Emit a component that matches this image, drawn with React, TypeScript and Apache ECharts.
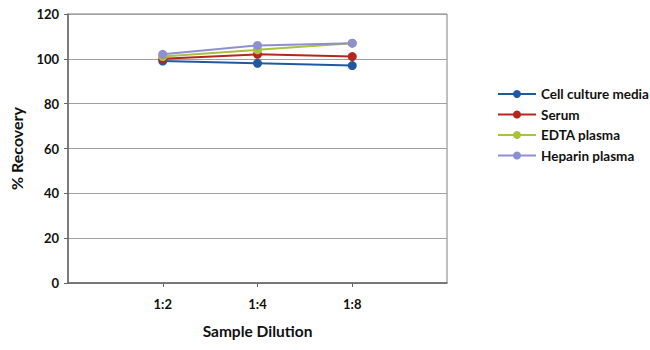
import React, { useEffect, useRef } from "react";
import * as echarts from "echarts";

const categories = ["", "1:2", "1:4", "1:8", ""];
const cellCulture = [null, 99, 98, 97, null];
const serum = [null, 100, 102, 101, null];
const edta = [null, 101, 104, 107, null];
const heparin = [null, 102, 106, 107, null];
const yTicks = [0, 20, 40, 60, 80, 100, 120];

const FONT = "Lato, 'Open Sans', sans-serif";

export default function App() {
  const ref = useRef<HTMLDivElement>(null);
  useEffect(() => {
    const chart = echarts.init(ref.current!, null, { renderer: "svg" });
    const mk = (name: string, data: any[], color: string) => ({
      name,
      type: "line",
      data,
      symbol: "circle",
      symbolSize: 9,
      showSymbol: true,
      connectNulls: false,
      lineStyle: { color, width: 2 },
      itemStyle: { color },
      z: 3,
    });
    chart.setOption({
      animation: false,
      backgroundColor: "#ffffff",
      textStyle: { fontFamily: FONT },
      grid: {
        left: 64,
        right: 203,
        top: 14,
        bottom: 67,
        show: true,
        borderColor: "#808080",
        borderWidth: 1,
      },
      legend: {
        orient: "vertical",
        left: 492,
        top: 82,
        itemWidth: 38,
        itemHeight: 10,
        itemGap: 6.5,
        textStyle: { fontFamily: FONT, fontWeight: "bold", fontSize: 13.5, color: "#111" },
        data: ["Cell culture media", "Serum", "EDTA plasma", "Heparin plasma"],
      },
      xAxis: {
        type: "category",
        data: categories,
        boundaryGap: false,
        name: "Sample Dilution",
        nameLocation: "middle",
        nameGap: 40,
        nameTextStyle: { fontFamily: FONT, fontWeight: "bold", fontSize: 15.5, color: "#111" },
        axisLine: { lineStyle: { color: "#666", width: 1.5 } },
        axisTick: {
          show: true,
          interval: (i: number) => i > 0 && i < categories.length - 1,
          length: 4,
          lineStyle: { color: "#666" },
        },
        axisLabel: {
          fontFamily: FONT,
          fontWeight: "bold",
          fontSize: 13,
          color: "#111",
          margin: 14,
          interval: 0,
        },
        splitLine: { show: false },
      },
      yAxis: {
        type: "value",
        min: yTicks[0],
        max: yTicks[yTicks.length - 1],
        interval: 20,
        name: "% Recovery",
        nameLocation: "middle",
        nameGap: 44,
        nameTextStyle: { fontFamily: FONT, fontWeight: "bold", fontSize: 16, color: "#111" },
        axisLine: { show: true, lineStyle: { color: "#666", width: 1.5 } },
        axisTick: { show: true, length: 4, lineStyle: { color: "#666" } },
        axisLabel: {
          fontFamily: FONT,
          fontWeight: "bold",
          fontSize: 13,
          color: "#111",
          margin: 9,
        },
        splitLine: { show: true, lineStyle: { color: "#a0a0a0", width: 1 } },
      },
      series: [
        mk("Cell culture media", cellCulture, "#1f5aa0"),
        mk("Serum", serum, "#b5261f"),
        mk("EDTA plasma", edta, "#a8c23a"),
        mk("Heparin plasma", heparin, "#8d8fd3"),
      ],
    });
    return () => chart.dispose();
  }, []);
  return <div ref={ref} style={{ width: 650, height: 350, position: "absolute", left: 0, top: 0 }} />;
}
